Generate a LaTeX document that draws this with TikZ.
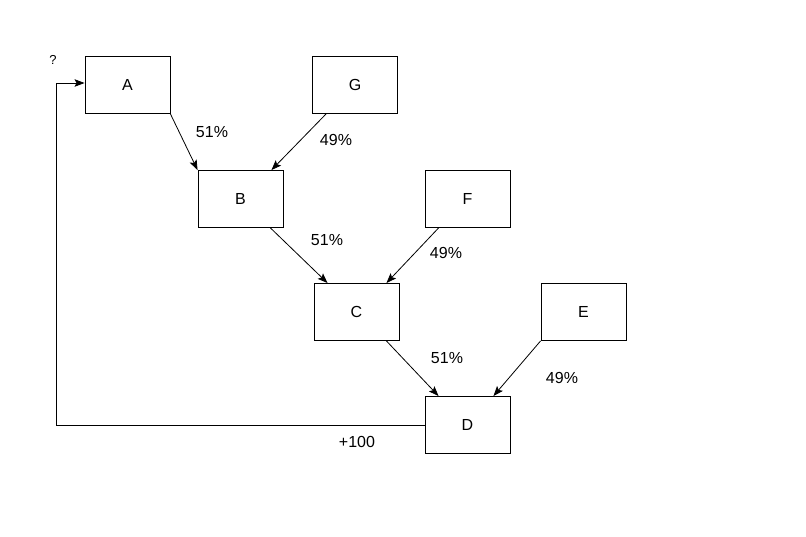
\documentclass[tikz,border=0pt]{standalone}
\usepackage{fontspec}
\setmainfont{Liberation Sans}
\usetikzlibrary{arrows.meta}
\begin{document}
\begin{tikzpicture}[x=1pt, y=-1pt,
        every node/.style={font=\fontsize{16}{19}\selectfont},
        box/.style={draw, line width=0.9pt, minimum width=85pt, minimum height=57pt, inner sep=0pt},
        link/.style={-{Stealth[length=10pt, width=7.5pt, inset=2pt]}, line width=0.8pt}]
        \useasboundingbox (0,0) rectangle (806,536);

        \node[box] (a) at (127.5, 85) {A};
        \node[box] (g) at (355.0, 85) {G};
        \node[box] (b) at (240.5,199) {B};
        \node[box] (f) at (467.5,199) {F};
        \node[box] (c) at (356.5,312) {C};
        \node[box] (e) at (583.5,312) {E};
        \node[box] (d) at (467.5,425) {D};

        \draw [link] (a.south east) -- (b.north west);
        \draw [link] ([xshift=14pt]g.south west) -- ([xshift=-12pt]b.north east);
        \draw [link] ([xshift=-13pt]b.south east) -- ([xshift=14pt]c.north west);
        \draw [link] ([xshift=14pt]f.south west) -- ([xshift=-13pt]c.north east);
        \draw [link] ([xshift=-13pt]c.south east) -- ([xshift=14pt]d.north west);
        \draw [link] (e.south west) -- ([xshift=-17pt]d.north east);

        \coordinate (back) at (56,425);
        \draw [link] (d.west) -- (back) |- ([yshift=2pt]a.west);

        \node (p1) at (212,132) {51\%};
        \node (q1) at (336,140) {49\%};
        \node (p2) at (327,240) {51\%};
        \node (q2) at (446,253) {49\%};
        \node (p3) at (447,358) {51\%};
        \node (q3) at (562,378) {49\%};
        \node (gain) at (357,442) {+100};
        \node[font=\fontsize{13}{15}\selectfont] (ask) at (53,60) {?};
    \end{tikzpicture}
\end{document}
